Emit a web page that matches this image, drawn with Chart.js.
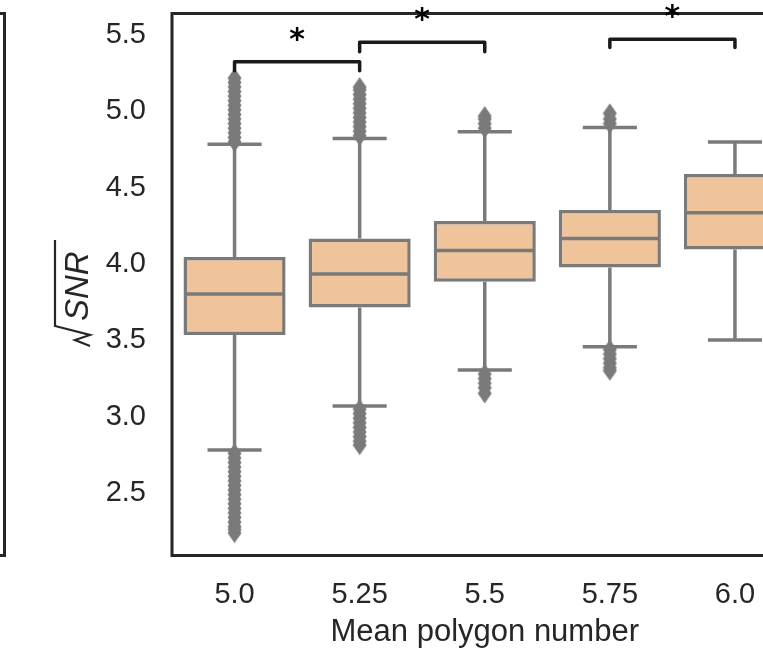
<!DOCTYPE html>
<html><head><meta charset="utf-8">
<script src="https://cdn.jsdelivr.net/npm/chart.js@4/dist/chart.umd.min.js"></script>
<style>html,body{margin:0;padding:0;background:#fff;overflow:hidden;width:763px;height:655px}canvas{display:block}</style>
</head><body>
<canvas id="c" width="830" height="655"></canvas>
<script>
// ---- data ----
const categories = ['5.0', '5.25', '5.5', '5.75', '6.0'];
const q1 = [3.535, 3.716, 3.884, 3.978, 4.096];
const medians = [3.803, 3.935, 4.088, 4.168, 4.336];
const q3 = [4.046, 4.168, 4.282, 4.354, 4.590];
const whiskerLow = [2.782, 3.070, 3.306, 3.458, 3.502];
const whiskerHigh = [4.784, 4.823, 4.867, 4.894, 4.799];
const outliersHigh = [
  [4.80, 4.83, 4.86, 4.89, 4.92, 4.95, 4.98, 5.01, 5.04, 5.07, 5.10, 5.13, 5.16, 5.19, 5.218],
  [4.84, 4.87, 4.90, 4.93, 4.96, 4.99, 5.02, 5.05, 5.08, 5.11, 5.14, 5.159],
  [4.89, 4.92, 4.95, 4.969],
  [4.92, 4.95, 4.987],
  []
];
const outliersLow = [
  [2.76, 2.73, 2.70, 2.67, 2.64, 2.61, 2.58, 2.55, 2.52, 2.49, 2.46, 2.43, 2.40, 2.37, 2.34, 2.31, 2.28, 2.26, 2.238],
  [3.05, 3.02, 2.99, 2.96, 2.93, 2.90, 2.87, 2.84, 2.814],
  [3.28, 3.25, 3.22, 3.19, 3.153],
  [3.44, 3.41, 3.38, 3.35, 3.32, 3.301],
  []
];
const yTicks = [2.5, 3.0, 3.5, 4.0, 4.5, 5.0, 5.5];
const sigPairs = [[0, 1], [1, 2], [3, 4]];
const sigTops = [5.325, 5.452, 5.472];
const sigLegEnds = [5.266, 5.391, 5.419];
const sigLabels = ['*', '*', '*'];
const xTitle = 'Mean polygon number';
const yTitle = 'SNR';

// ---- styling ----
const FILL = 'rgb(239,196,155)';
const GRAY = 'rgb(122,122,122)';
const TXT = '#262626';
const FONT = '"Liberation Sans", Arial, sans-serif';
const LW = 3.5;

const outlierPoints = [];
categories.forEach((c, i) => {
  outliersHigh[i].forEach(v => outlierPoints.push({x: c, y: v}));
  outliersLow[i].forEach(v => outlierPoints.push({x: c, y: v}));
});

// thin diamond marker
const dia = document.createElement('canvas');
dia.width = 15; dia.height = 21;
(function(){ const d = dia.getContext('2d'); d.fillStyle = GRAY; d.beginPath();
  d.moveTo(7.5, 0.5); d.lineTo(14.5, 10.5); d.lineTo(7.5, 20.5); d.lineTo(0.5, 10.5); d.closePath(); d.fill(); })();

const boxPlugin = {
  id: 'boxparts',
  beforeDatasetsDraw(chart) {
    const ctx = chart.ctx, y = chart.scales.y, meta = chart.getDatasetMeta(0);
    ctx.save(); ctx.strokeStyle = GRAY; ctx.lineWidth = LW; ctx.lineCap = 'butt';
    meta.data.forEach((el, i) => {
      const cw = el.width * 0.53;
      ctx.beginPath();
      ctx.moveTo(el.x, y.getPixelForValue(q3[i])); ctx.lineTo(el.x, y.getPixelForValue(whiskerHigh[i]));
      ctx.moveTo(el.x, y.getPixelForValue(q1[i])); ctx.lineTo(el.x, y.getPixelForValue(whiskerLow[i]));
      ctx.moveTo(el.x - cw / 2, y.getPixelForValue(whiskerHigh[i])); ctx.lineTo(el.x + cw / 2, y.getPixelForValue(whiskerHigh[i]));
      ctx.moveTo(el.x - cw / 2, y.getPixelForValue(whiskerLow[i])); ctx.lineTo(el.x + cw / 2, y.getPixelForValue(whiskerLow[i]));
      ctx.stroke();
    });
    ctx.restore();
  },
  afterDatasetsDraw(chart) {
    const ctx = chart.ctx, y = chart.scales.y, x = chart.scales.x, meta = chart.getDatasetMeta(0);
    const a = chart.chartArea;
    ctx.save();
    // medians
    ctx.strokeStyle = GRAY; ctx.lineWidth = LW;
    meta.data.forEach((el, i) => {
      const py = y.getPixelForValue(medians[i]);
      ctx.beginPath(); ctx.moveTo(el.x - el.width / 2 + 1.5, py); ctx.lineTo(el.x + el.width / 2 - 1.5, py); ctx.stroke();
    });
    // frame
    ctx.strokeStyle = TXT; ctx.lineWidth = 3;
    ctx.strokeRect(a.left, a.top, a.right - a.left, a.bottom - a.top);
    // neighbouring panel edge
    ctx.beginPath(); ctx.moveTo(-10, a.top); ctx.lineTo(4.5, a.top); ctx.lineTo(4.5, a.bottom); ctx.lineTo(-10, a.bottom); ctx.stroke();
    // significance brackets
    ctx.strokeStyle = '#1a1a1a'; ctx.lineWidth = 3.5; ctx.lineCap = 'round'; ctx.lineJoin = 'round';
    ctx.fillStyle = '#000'; ctx.font = 'bold 30px "DejaVu Sans", sans-serif'; ctx.textAlign = 'center'; ctx.textBaseline = 'alphabetic';
    sigPairs.forEach((p, k) => {
      const x0 = x.getPixelForValue(p[0]), x1 = x.getPixelForValue(p[1]);
      const yt = y.getPixelForValue(sigTops[k]), yb = y.getPixelForValue(sigLegEnds[k]);
      ctx.beginPath(); ctx.moveTo(x0, yb); ctx.lineTo(x0, yt); ctx.lineTo(x1, yt); ctx.lineTo(x1, yb); ctx.stroke();
      ctx.fillText(sigLabels[k], (x0 + x1) / 2, yt - 13);
    });
    // y label: sqrt(SNR)
    const ox = a.left - 77, oy = (a.top + a.bottom) / 2 + 41.5;
    ctx.translate(ox, oy); ctx.rotate(-Math.PI / 2);
    ctx.fillStyle = TXT; ctx.font = 'italic 33px ' + FONT; ctx.textAlign = 'left'; ctx.textBaseline = 'alphabetic';
    ctx.fillText(yTitle, 5, -7);
    ctx.strokeStyle = TXT; ctx.lineWidth = 2.2; ctx.lineCap = 'butt'; ctx.lineJoin = 'miter';
    ctx.beginPath(); ctx.moveTo(86, -40); ctx.lineTo(0, -40); ctx.lineTo(-9, -5); ctx.lineTo(-14, -20); ctx.lineTo(-20, -5); ctx.stroke();
    ctx.restore();
  }
};

new Chart(document.getElementById('c'), {
  type: 'bar',
  data: {
    labels: categories,
    datasets: [
      { type: 'bar', order: 2, data: categories.map((c, i) => [q1[i], q3[i]]),
        backgroundColor: FILL, borderColor: GRAY, borderWidth: LW, borderSkipped: false,
        barPercentage: 0.816, categoryPercentage: 1.0 },
      { type: 'line', order: 1, data: outlierPoints, showLine: false,
        pointStyle: dia, pointRadius: 7, pointHoverRadius: 7, borderColor: GRAY, backgroundColor: GRAY }
    ]
  },
  options: {
    responsive: false, animation: false, devicePixelRatio: 1,
    layout: { padding: { left: 0, right: 32.5, top: 13.5, bottom: 0 } },
    plugins: { legend: { display: false }, tooltip: { enabled: false } },
    scales: {
      x: {
        type: 'category', offset: true,
        grid: { display: false, drawTicks: false }, border: { display: false },
        ticks: { color: TXT, font: { size: 29, family: FONT }, padding: 22, maxRotation: 0 },
        title: { display: true, text: xTitle, color: TXT, font: { size: 31, family: FONT }, padding: { top: 0, bottom: 3.5 } },
        afterFit(s) { s.height = 99.5; s.paddingLeft = 0; s.paddingRight = 0; }
      },
      y: {
        min: 2.091, max: 5.641,
        grid: { display: false, drawTicks: false }, border: { display: false },
        afterBuildTicks(s) { s.ticks = yTicks.map(v => ({ value: v })); },
        ticks: { color: TXT, font: { size: 29, family: FONT }, padding: 26, callback: v => v.toFixed(1) },
        afterFit(s) { s.width = 172; s.paddingTop = 0; s.paddingBottom = 0; }
      }
    }
  },
  plugins: [boxPlugin]
});
</script>
</body></html>
